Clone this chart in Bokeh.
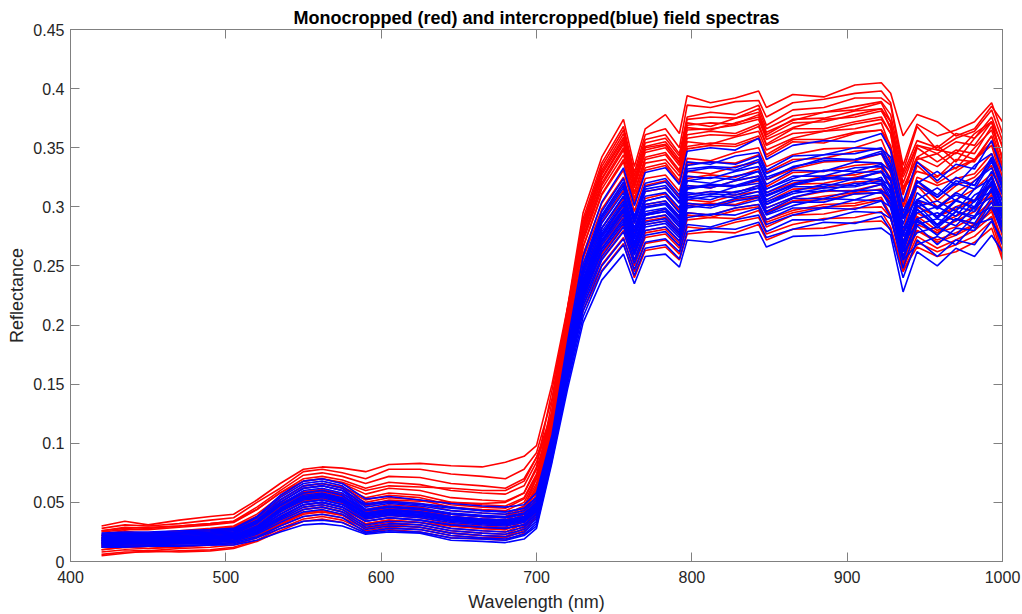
from bokeh.plotting import figure
from bokeh.models import LinearAxis, FixedTicker, NumeralTickFormatter, Range1d, ColumnDataSource
from bokeh.embed import file_html
from bokeh.resources import INLINE

# Wavelength samples (nm)
wavelength = [420, 435, 450, 470, 490, 505, 520, 535, 550, 562, 575, 590, 605, 625, 645,
              665, 680, 692, 700, 710, 720, 730, 742, 756, 763, 770, 783, 792, 797, 812,
              828, 843, 848, 865, 885, 905, 922, 928, 936, 945, 958, 970, 982, 993, 1000]

# Monocropped spectra (red), reflectance x 1000
red_spectra = [
    [30,34,31,35,38,40,52,66,78,80,79,76,82,83,81,80,84,89,98, 150,215,295,342,374,334,366,378,362,394,388,392,398,384,395,393,403,405,396,360,378,372,360,366,385,372],
    [28,31,30,32,35,37,50,62,76,78,75,70,78,78,74,72,70,78,92, 138,215,287,334,365,326,357,361,345,376,380,378,386,369,382,384,392,392,386,330,368,348,358,364,382,356],
    [26,29,28,30,32,34,46,60,73,75,72,66,72,71,66,64,62,70,88, 126,214,283,329,359,321,351,355,340,371,368,375,380,363,373,380,382,388,372,320,352,348,345,362,372,352],
    [25,27,27,29,31,33,44,58,70,72,69,62,67,65,60,58,57,64,84, 124,211,278,323,353,316,346,350,335,365,366,369,374,357,367,374,376,381,368,316,342,352,338,358,372,340],
    [22,25,24,26,28,30,40,55,68,70,66,57,62,60,54,52,51,58,78, 123,208,275,320,350,312,342,346,331,361,364,362,370,353,366,366,372,376,362,300,340,345,332,350,365,335],
    [23,26,22,25,27,29,38,52,64,66,63,54,58,56,50,48,47,54,74, 121,205,271,315,344,307,337,340,326,355,353,359,364,348,358,364,366,371,350,315,330,325,340,338,360,330],
    [20,23,22,24,26,28,37,50,62,64,60,50,54,52,46,44,43,50,70, 119,202,266,310,338,302,331,335,320,349,352,351,358,342,355,354,362,365,347,295,335,320,330,340,352,320],
    [21,22,23,22,25,27,35,48,59,61,57,47,51,49,43,41,40,47,66, 116,197,260,303,331,296,324,327,313,341,339,346,350,334,344,349,350,357,338,290,325,318,324,328,345,318],
    [18,21,19,21,23,25,33,46,57,59,55,44,48,46,40,38,37,44,62, 114,194,256,298,325,291,318,322,308,336,338,337,344,329,340,341,347,349,336,280,322,305,318,325,340,310],
    [17,19,20,20,22,24,31,44,55,57,53,42,45,43,38,36,35,42,60, 112,190,252,292,320,286,313,316,303,330,328,334,338,323,332,338,339,345,328,275,318,300,312,322,335,305],
    [16,18,17,19,21,23,30,42,53,55,51,40,43,41,36,34,33,40,57, 110,187,247,287,314,281,307,311,297,324,327,325,332,317,329,330,335,337,324,270,305,300,306,315,328,298],
    [15,17,16,18,20,22,28,40,51,53,49,38,41,39,34,32,31,38,54, 108,184,243,282,308,276,302,305,292,318,316,322,326,312,320,326,327,333,316,265,300,292,300,306,320,290],
    [14,16,16,17,19,21,27,38,48,50,46,36,39,37,32,30,29,36,52, 106,179,237,275,301,269,294,298,285,310,313,312,318,304,315,316,321,322,312,262,295,285,292,300,312,285],
    [13,15,14,16,18,19,25,36,46,48,44,34,37,35,30,28,27,34,50, 104,176,233,271,296,265,290,293,280,306,304,310,313,299,308,313,314,319,303,258,292,280,288,296,310,280],
    [12,14,13,15,16,18,24,34,44,46,42,32,35,33,28,26,25,32,48, 102,174,229,267,291,260,285,288,276,301,303,302,308,295,305,306,311,312,302,255,285,278,283,292,305,275],
    [10,12,11,13,14,16,22,32,41,43,40,30,33,31,26,24,23,30,45, 100,170,225,261,286,255,280,283,271,295,293,299,302,289,297,302,303,308,293,250,280,272,278,285,298,270],
    [8,10,9,11,12,14,20,30,38,40,37,28,31,29,24,22,21,28,42, 98,167,221,256,280,250,274,277,265,289,291,290,297,283,293,294,299,300,291,248,275,265,272,280,292,262],
    [6,8,8,9,10,12,18,28,36,38,35,26,29,27,22,20,20,26,40, 96,164,216,251,274,245,269,272,260,283,281,287,291,277,285,290,291,296,283,245,270,262,268,275,288,258],
    [5,7,9,8,9,11,17,26,34,36,33,24,27,25,20,19,18,24,38, 94,160,212,246,269,240,263,266,255,277,279,278,285,272,281,282,287,288,281,246,266,258,262,270,282,255],
    [18,20,19,21,22,24,32,45,56,58,54,42,46,44,38,36,35,42,62, 125,213,281,327,357,319,350,353,338,369,371,370,378,361,374,375,381,383,372,325,352,345,355,352,372,340],
    [22,24,23,25,27,29,38,52,64,66,62,52,56,54,48,46,45,53,72, 104,172,224,260,284,254,278,281,269,293,291,297,300,287,295,300,301,306,290,258,280,270,276,284,296,268],
    [10,12,11,12,14,16,22,31,40,42,39,28,31,29,24,22,21,28,46, 115,200,266,311,340,304,333,337,322,351,354,353,360,344,357,357,363,365,352,300,338,326,333,340,355,325],
    [20,22,21,23,25,27,36,49,58,60,57,48,52,51,50,49,50,58,80, 145,212,290,337,368,329,361,366,350,386,384,389,390,376,388,391,396,398,388,335,370,360,365,372,388,362],
    [16,18,18,19,21,23,30,42,52,54,51,41,45,43,40,38,38,46,70, 135,210,285,331,362,323,354,358,343,374,376,375,383,366,377,380,385,389,378,328,356,350,362,358,376,350],
    [14,16,15,17,19,20,27,38,48,50,46,36,40,38,35,33,33,40,62, 128,205,273,318,348,311,340,344,329,358,361,360,368,352,362,364,370,374,362,312,342,334,346,340,360,334],
    [26,28,29,30,32,34,44,58,68,70,67,60,64,63,62,60,60,68,88, 118,190,244,282,306,274,300,303,290,316,318,317,322,309,319,320,325,329,318,270,300,292,298,305,318,290],
    [19,21,20,22,24,26,33,45,54,56,53,43,46,45,40,38,37,44,64, 108,180,233,270,294,263,288,291,278,303,301,306,309,296,305,309,312,315,302,252,288,278,290,285,305,280],
    [12,14,13,15,16,18,24,34,44,46,42,32,35,33,30,28,27,34,55, 128,208,279,324,355,318,348,352,337,367,365,371,376,359,371,372,378,383,366,310,350,338,348,345,368,342],
]

# Intercropped spectra (blue), reflectance x 1000
blue_spectra = [
    [24,25,25,26,27,28,38,56,68,70,66,53,55,52,49,47,46,48,58, 107,186,258,304,333,301,329,333,319,347,350,348,358,340,352,356,355,362,348,304,338,322,336,332,356,330],
    [23,24,24,25,26,27,37,54,66,68,64,49,51,49,46,43,42,45,54, 104,181,251,296,324,292,320,324,310,338,336,343,346,331,343,344,350,349,342,296,320,330,318,335,345,322],
    [22,23,23,24,25,26,35,52,64,66,62,46,49,47,43,41,40,43,52, 103,178,246,291,318,287,315,318,304,332,334,333,340,325,333,341,340,347,333,285,322,308,322,318,340,315],
    [21,22,22,23,24,25,34,50,62,64,60,44,47,45,41,39,38,41,50, 101,175,242,286,312,282,309,312,299,326,324,330,334,319,331,330,338,337,330,290,306,316,305,322,333,310],
    [20,21,21,22,23,24,33,48,60,62,58,43,46,44,40,38,37,40,49, 100,173,239,282,309,279,305,309,295,322,325,323,330,315,324,331,330,336,322,278,312,298,312,305,330,312],
    [19,20,20,21,22,23,32,47,58,60,56,41,44,42,38,36,35,38,47, 98,171,236,279,305,276,302,305,292,318,316,322,326,312,322,323,329,330,322,282,300,305,296,315,324,300],
    [19,19,20,20,21,22,30,45,56,58,54,40,43,41,37,35,34,37,46, 98,169,234,276,302,273,299,302,289,315,318,317,323,309,318,324,323,330,316,270,306,290,305,300,325,305],
    [18,19,19,20,21,22,30,44,55,57,53,39,42,40,36,34,33,36,45, 97,167,232,274,299,270,296,299,287,312,310,317,320,306,317,317,324,323,318,278,295,300,292,310,318,295],
    [18,18,19,19,20,21,29,43,53,55,51,38,41,39,35,33,32,35,44, 96,166,230,272,298,269,294,298,285,310,313,312,318,304,313,319,318,325,311,265,302,285,300,296,320,300],
    [17,18,18,19,20,21,28,42,52,54,50,37,40,38,34,32,31,34,43, 95,165,229,270,296,267,293,296,283,308,306,313,316,302,313,313,320,320,314,275,290,295,288,305,313,290],
    [17,17,18,18,19,20,27,40,50,52,48,36,39,37,33,31,30,33,42, 95,164,227,268,293,265,290,293,280,306,309,308,313,299,308,314,313,319,306,262,298,282,296,292,314,296],
    [16,17,17,18,18,19,26,38,48,50,46,34,37,35,31,29,28,31,40, 94,162,225,265,290,262,287,290,278,303,301,307,310,296,307,307,314,314,308,270,285,290,284,300,308,286],
    [15,16,16,17,17,18,25,36,46,48,44,31,34,33,28,26,25,29,38, 92,160,222,262,286,259,283,286,274,299,302,301,306,293,301,307,306,313,299,255,290,276,290,286,308,290],
    [15,15,16,16,17,18,24,35,44,46,42,29,32,31,26,24,23,27,36, 91,158,219,258,283,255,280,283,271,295,293,299,302,289,299,299,306,305,300,262,278,283,276,292,300,278],
    [14,15,15,16,16,17,23,33,42,44,40,27,30,29,24,22,21,25,34, 90,156,216,255,279,252,276,279,267,291,294,293,299,285,293,299,298,305,292,248,284,268,282,280,300,282],
    [13,14,14,15,15,16,21,30,38,40,37,25,28,27,22,20,19,23,32, 88,153,212,250,273,247,270,273,262,285,283,289,293,279,289,289,296,295,290,255,268,275,268,285,290,268],
    [12,13,13,14,14,15,20,28,34,35,33,24,26,25,20,19,18,22,30, 86,150,207,245,268,242,265,268,256,279,282,281,287,274,281,287,286,292,280,240,272,258,272,268,288,272],
    [12,12,13,13,14,14,18,25,31,32,30,23,25,24,18,17,16,19,28, 84,146,202,238,260,235,258,260,249,272,270,275,279,266,275,276,280,282,276,228,262,250,265,258,276,262],
    [20,21,22,22,23,24,33,50,62,64,60,48,50,48,45,43,42,45,54, 102,177,245,289,316,286,313,316,303,330,333,331,338,323,334,339,340,345,331,290,318,308,320,315,338,318],
    [14,15,15,16,17,18,25,37,48,50,46,34,37,35,31,29,28,31,40, 98,170,238,282,309,279,305,309,295,322,320,326,330,315,326,326,333,334,324,276,306,300,310,304,326,300],
    [22,23,23,24,25,26,34,48,58,60,56,43,46,44,40,38,37,40,48, 97,168,235,277,303,274,300,303,291,316,319,318,324,310,319,325,324,330,315,268,304,292,306,298,322,298],
    [16,17,17,18,19,20,27,40,50,52,48,38,41,39,35,33,32,35,44, 95,165,229,270,296,267,293,296,283,308,311,310,316,302,311,316,317,322,308,262,298,284,296,290,316,292],
    [18,19,19,20,21,21,29,42,54,56,52,40,43,41,37,35,34,37,45, 93,161,223,264,288,260,285,288,276,301,299,305,308,294,304,304,311,312,303,258,288,276,290,282,304,284],
    [16,17,17,18,19,20,28,43,54,56,52,41,44,42,38,36,35,38,47, 101,175,248,293,321,290,317,321,307,335,338,336,343,328,338,344,345,350,336,292,322,310,325,318,342,318],
]

x_ticks = [400, 500, 600, 700, 800, 900, 1000]
y_ticks = [0, 0.05, 0.1, 0.15, 0.2, 0.25, 0.3, 0.35, 0.4, 0.45]

for row in red_spectra + blue_spectra:
    assert len(row) == len(wavelength), len(row)

FONT = "Liberation Sans"
AX = "#808080"
TXT = "#262626"

p = figure(width=1022, height=614, output_backend="svg", toolbar_location=None,
           x_range=Range1d(400, 1000), y_range=Range1d(0, 0.45),
           min_border_left=70, min_border_right=20, min_border_top=29, min_border_bottom=53,
           title="Monocropped (red) and intercropped(blue) field spectras")
p.title.align = "center"
p.title.text_font = FONT
p.title.text_font_size = "18px"
p.title.text_font_style = "bold"
p.title.text_color = "black"
p.title.standoff = 3

p.xgrid.visible = False
p.ygrid.visible = False
p.outline_line_color = AX
p.outline_line_width = 1
p.background_fill_color = "white"
p.border_fill_color = "white"

red_src = ColumnDataSource(dict(
    xs=[wavelength for _ in red_spectra],
    ys=[[v / 1000 for v in row] for row in red_spectra]))
blue_src = ColumnDataSource(dict(
    xs=[wavelength for _ in blue_spectra],
    ys=[[v / 1000 for v in row] for row in blue_spectra]))
p.multi_line(xs="xs", ys="ys", source=red_src, line_color="#FF0000", line_width=1.6)
p.multi_line(xs="xs", ys="ys", source=blue_src, line_color="#0000FF", line_width=1.6)


def style(ax, labels=True):
    ax.axis_line_color = AX
    ax.major_tick_line_color = AX
    ax.major_tick_in = 9
    ax.major_tick_out = 0
    ax.minor_tick_line_color = None
    ax.major_label_text_font = FONT
    ax.major_label_text_color = TXT if labels else None
    ax.major_label_text_font_size = "16px" if labels else "1px"
    ax.axis_label_text_font = FONT
    ax.axis_label_text_font_size = "18px"
    ax.axis_label_text_font_style = "normal"
    ax.axis_label_text_color = TXT


p.xaxis.ticker = FixedTicker(ticks=x_ticks)
p.yaxis.ticker = FixedTicker(ticks=y_ticks)
p.yaxis.formatter = NumeralTickFormatter(format="0.[00]")
p.xaxis.axis_label = "Wavelength (nm)"
p.yaxis.axis_label = "Reflectance"
for ax in p.xaxis + p.yaxis:
    style(ax)
p.xaxis.major_label_standoff = 9
p.yaxis.major_label_standoff = 6
p.xaxis.axis_label_standoff = 6
p.yaxis.axis_label_standoff = 3

top = LinearAxis(ticker=FixedTicker(ticks=x_ticks), major_label_standoff=0)
right = LinearAxis(ticker=FixedTicker(ticks=y_ticks), major_label_standoff=0)
style(top, labels=False)
style(right, labels=False)
p.add_layout(top, "above")
p.add_layout(right, "right")

open("out.html", "w").write(file_html(p, INLINE))
